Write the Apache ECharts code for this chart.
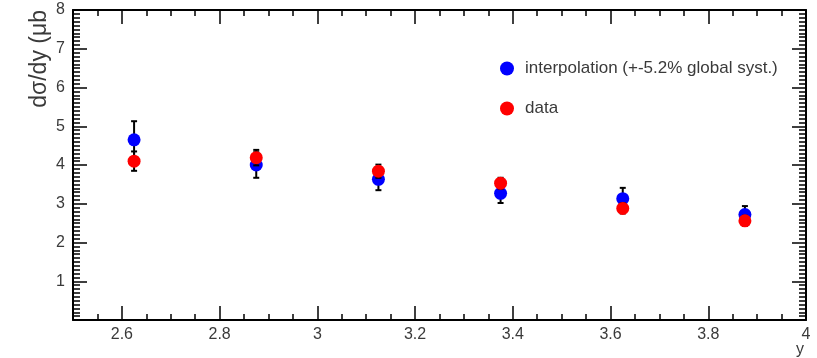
<!DOCTYPE html>
<html>
<head>
<meta charset="utf-8">
<script src="https://cdn.jsdelivr.net/npm/echarts@6/dist/echarts.min.js"></script>
<style>
  html, body { margin: 0; padding: 0; background: #fff; }
  #chart { width: 817px; height: 358px; }
</style>
</head>
<body>
<div id="chart"></div>
<script>
// rapidity bins
var xValues = [2.625, 2.875, 3.125, 3.375, 3.625, 3.875];
// interpolation (blue)
var interpValues = [4.65, 4.0, 3.63, 3.27, 3.13, 2.72];
var interpErrors = [0.48, 0.33, 0.28, 0.25, 0.28, 0.22];
// data (red)
var dataValues = [4.1, 4.19, 3.84, 3.53, 2.88, 2.56];
var dataErrors = [0.25, 0.2, 0.17, 0.14, 0.13, 0.13];
// tick labels
var xTickValues = [2.6, 2.8, 3, 3.2, 3.4, 3.6, 3.8, 4];
var yTickValues = [1, 2, 3, 4, 5, 6, 7, 8];

var interpName = "interpolation (+-5.2% global syst.)";
var dataName = "data";

var font = "Liberation Sans, Arial, sans-serif";
var textColor = "#3a3a3a";

function pairs(xs, ys) {
  return xs.map(function (x, i) { return [x, ys[i]]; });
}
function errItems(xs, ys, es) {
  return xs.map(function (x, i) { return [x, ys[i], es[i]]; });
}

function renderErr(params, api) {
  var x = api.value(0), y = api.value(1), e = api.value(2);
  var lo = api.coord([x, y - e]);
  var hi = api.coord([x, y + e]);
  var cap = 3;
  var st = { stroke: "#000", lineWidth: 2 };
  return {
    type: "group",
    children: [
      { type: "line", shape: { x1: lo[0], y1: lo[1], x2: hi[0], y2: hi[1] }, style: st },
      { type: "line", shape: { x1: lo[0] - cap, y1: lo[1], x2: lo[0] + cap, y2: lo[1] }, style: st },
      { type: "line", shape: { x1: hi[0] - cap, y1: hi[1], x2: hi[0] + cap, y2: hi[1] }, style: st },
    ],
  };
}

var chart = echarts.init(document.getElementById("chart"));

var axisLine = { show: true, lineStyle: { color: "#000", width: 2 } };

var option = {
  animation: false,
  backgroundColor: "#fff",
  grid: { left: 73, right: 11, top: 10, bottom: 38 },
  legend: {
    orient: "vertical",
    left: 495,
    top: 55,
    icon: "circle",
    itemWidth: 14,
    itemHeight: 14,
    itemGap: 23,
    data: [interpName, dataName],
    textStyle: { fontFamily: font, fontSize: 17, lineHeight: 14, color: textColor, padding: [0, 0, 0, 6] },
  },
  xAxis: [
    {
      type: "value", min: 2.5, max: 4, position: "bottom",
      axisLine: axisLine,
      axisTick: { show: true, inside: true, length: 14, customValues: xTickValues, lineStyle: { color: "#000", width: 1.5 } },
      axisLabel: { customValues: xTickValues, fontFamily: font, fontSize: 16, color: textColor, margin: 7 },
      splitLine: { show: false },
    },
    {
      type: "value", min: 2.5, max: 4, interval: 0.05, position: "bottom",
      axisLine: { show: false },
      axisTick: { show: true, inside: true, length: 6, lineStyle: { color: "#000", width: 1.5 } },
      axisLabel: { show: false },
      splitLine: { show: false },
    },
    {
      type: "value", min: 2.5, max: 4, position: "top",
      axisLine: axisLine,
      axisTick: { show: true, inside: true, length: 14, customValues: xTickValues, lineStyle: { color: "#000", width: 1.5 } },
      axisLabel: { show: false },
      splitLine: { show: false },
    },
    {
      type: "value", min: 2.5, max: 4, interval: 0.05, position: "top",
      axisLine: { show: false },
      axisTick: { show: true, inside: true, length: 6, lineStyle: { color: "#000", width: 1.5 } },
      axisLabel: { show: false },
      splitLine: { show: false },
    },
  ],
  yAxis: [
    {
      type: "value", min: 0, max: 8, interval: 1, position: "left",
      axisLine: axisLine,
      axisTick: { show: true, inside: true, length: 14, lineStyle: { color: "#000", width: 1.5 } },
      minorTick: { show: true, splitNumber: 10, length: 7, lineStyle: { color: "#000", width: 1.5 } },
      axisLabel: { customValues: yTickValues, fontFamily: font, fontSize: 16, color: textColor, margin: 8 },
      splitLine: { show: false },
      minorSplitLine: { show: false },
    },
    {
      type: "value", min: 0, max: 8, interval: 1, position: "right",
      axisLine: axisLine,
      axisTick: { show: true, inside: true, length: 14, lineStyle: { color: "#000", width: 1.5 } },
      minorTick: { show: true, splitNumber: 10, length: 7, lineStyle: { color: "#000", width: 1.5 } },
      axisLabel: { show: false },
      splitLine: { show: false },
      minorSplitLine: { show: false },
    },
  ],
  graphic: [
    {
      type: "text", x: 40, y: 10, rotation: Math.PI / 2,
      style: { text: "dσ/dy (μb", fontFamily: font, fontSize: 23, fill: textColor, align: "right", verticalAlign: "middle" },
    },
    {
      type: "text", x: 800, y: 350,
      style: { text: "y", fontFamily: font, fontSize: 16, fill: textColor, align: "center", verticalAlign: "middle" },
    },
  ],
  series: [
    {
      type: "custom", xAxisIndex: 0, yAxisIndex: 0, z: 2,
      renderItem: renderErr,
      data: errItems(xValues, interpValues, interpErrors),
    },
    {
      name: interpName, type: "scatter", xAxisIndex: 0, yAxisIndex: 0, z: 3,
      symbol: "circle", symbolSize: 13,
      itemStyle: { color: "#0000ff", opacity: 1 },
      data: pairs(xValues, interpValues),
    },
    {
      type: "custom", xAxisIndex: 0, yAxisIndex: 0, z: 4,
      renderItem: renderErr,
      data: errItems(xValues, dataValues, dataErrors),
    },
    {
      name: dataName, type: "scatter", xAxisIndex: 0, yAxisIndex: 0, z: 5,
      symbol: "circle", symbolSize: 13,
      itemStyle: { color: "#ff0000", opacity: 1 },
      data: pairs(xValues, dataValues),
    },
  ],
};

chart.setOption(option);
window.addEventListener("resize", chart.resize);
</script>
</body>
</html>
